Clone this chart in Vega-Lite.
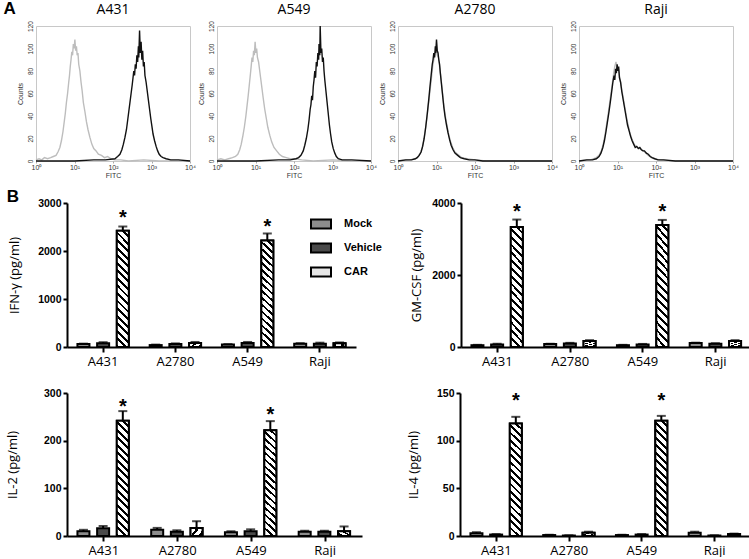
{
"$schema": "https://vega.github.io/schema/vega-lite/v6.json",
"background": "white",
"padding": {"left": 3, "top": 0, "right": 0, "bottom": 0},
"config": {"view": {"stroke": null}, "axis": {"grid": false}, "title": {"color": "black"}},
"datasets": {
"hist": [
{"cell":"A431","stain":"Control","logFITC":0,"counts":1},{"cell":"A431","stain":"Control","logFITC":0.08,"counts":2},{"cell":"A431","stain":"Control","logFITC":0.15,"counts":1},{"cell":"A431","stain":"Control","logFITC":0.22,"counts":3},{"cell":"A431","stain":"Control","logFITC":0.3,"counts":2},{"cell":"A431","stain":"Control","logFITC":0.38,"counts":3},{"cell":"A431","stain":"Control","logFITC":0.45,"counts":4},{"cell":"A431","stain":"Control","logFITC":0.52,"counts":5},{"cell":"A431","stain":"Control","logFITC":0.57,"counts":8},{"cell":"A431","stain":"Control","logFITC":0.62,"counts":12},{"cell":"A431","stain":"Control","logFITC":0.66,"counts":18},{"cell":"A431","stain":"Control","logFITC":0.7,"counts":26},{"cell":"A431","stain":"Control","logFITC":0.73,"counts":34},{"cell":"A431","stain":"Control","logFITC":0.76,"counts":42},{"cell":"A431","stain":"Control","logFITC":0.79,"counts":52},{"cell":"A431","stain":"Control","logFITC":0.82,"counts":60},{"cell":"A431","stain":"Control","logFITC":0.85,"counts":70},{"cell":"A431","stain":"Control","logFITC":0.87,"counts":76},{"cell":"A431","stain":"Control","logFITC":0.89,"counts":84},{"cell":"A431","stain":"Control","logFITC":0.91,"counts":90},{"cell":"A431","stain":"Control","logFITC":0.93,"counts":97},{"cell":"A431","stain":"Control","logFITC":0.95,"counts":94},{"cell":"A431","stain":"Control","logFITC":0.97,"counts":104},{"cell":"A431","stain":"Control","logFITC":0.99,"counts":100},{"cell":"A431","stain":"Control","logFITC":1.01,"counts":108},{"cell":"A431","stain":"Control","logFITC":1.03,"counts":98},{"cell":"A431","stain":"Control","logFITC":1.05,"counts":102},{"cell":"A431","stain":"Control","logFITC":1.07,"counts":94},{"cell":"A431","stain":"Control","logFITC":1.09,"counts":96},{"cell":"A431","stain":"Control","logFITC":1.11,"counts":86},{"cell":"A431","stain":"Control","logFITC":1.14,"counts":80},{"cell":"A431","stain":"Control","logFITC":1.17,"counts":70},{"cell":"A431","stain":"Control","logFITC":1.2,"counts":62},{"cell":"A431","stain":"Control","logFITC":1.23,"counts":52},{"cell":"A431","stain":"Control","logFITC":1.27,"counts":44},{"cell":"A431","stain":"Control","logFITC":1.31,"counts":35},{"cell":"A431","stain":"Control","logFITC":1.35,"counts":28},{"cell":"A431","stain":"Control","logFITC":1.4,"counts":21},{"cell":"A431","stain":"Control","logFITC":1.45,"counts":15},{"cell":"A431","stain":"Control","logFITC":1.5,"counts":11},{"cell":"A431","stain":"Control","logFITC":1.56,"counts":9},{"cell":"A431","stain":"Control","logFITC":1.62,"counts":6},{"cell":"A431","stain":"Control","logFITC":1.7,"counts":5},{"cell":"A431","stain":"Control","logFITC":1.78,"counts":3},{"cell":"A431","stain":"Control","logFITC":1.86,"counts":4},{"cell":"A431","stain":"Control","logFITC":1.95,"counts":2},{"cell":"A431","stain":"Control","logFITC":2.05,"counts":1},{"cell":"A431","stain":"Control","logFITC":2.2,"counts":1},{"cell":"A431","stain":"Control","logFITC":2.4,"counts":0},{"cell":"A431","stain":"Control","logFITC":2.8,"counts":1},{"cell":"A431","stain":"Control","logFITC":3.2,"counts":0},{"cell":"A431","stain":"Control","logFITC":4,"counts":0},
{"cell":"A431","stain":"CAR","logFITC":0,"counts":0},{"cell":"A431","stain":"CAR","logFITC":1,"counts":0},{"cell":"A431","stain":"CAR","logFITC":1.5,"counts":1},{"cell":"A431","stain":"CAR","logFITC":1.8,"counts":1},{"cell":"A431","stain":"CAR","logFITC":2.05,"counts":2},{"cell":"A431","stain":"CAR","logFITC":2.12,"counts":4},{"cell":"A431","stain":"CAR","logFITC":2.18,"counts":6},{"cell":"A431","stain":"CAR","logFITC":2.23,"counts":10},{"cell":"A431","stain":"CAR","logFITC":2.27,"counts":15},{"cell":"A431","stain":"CAR","logFITC":2.31,"counts":21},{"cell":"A431","stain":"CAR","logFITC":2.35,"counts":28},{"cell":"A431","stain":"CAR","logFITC":2.38,"counts":36},{"cell":"A431","stain":"CAR","logFITC":2.41,"counts":44},{"cell":"A431","stain":"CAR","logFITC":2.44,"counts":52},{"cell":"A431","stain":"CAR","logFITC":2.47,"counts":60},{"cell":"A431","stain":"CAR","logFITC":2.5,"counts":68},{"cell":"A431","stain":"CAR","logFITC":2.52,"counts":74},{"cell":"A431","stain":"CAR","logFITC":2.54,"counts":80},{"cell":"A431","stain":"CAR","logFITC":2.56,"counts":76},{"cell":"A431","stain":"CAR","logFITC":2.58,"counts":86},{"cell":"A431","stain":"CAR","logFITC":2.6,"counts":82},{"cell":"A431","stain":"CAR","logFITC":2.62,"counts":94},{"cell":"A431","stain":"CAR","logFITC":2.64,"counts":88},{"cell":"A431","stain":"CAR","logFITC":2.66,"counts":102},{"cell":"A431","stain":"CAR","logFITC":2.67,"counts":92},{"cell":"A431","stain":"CAR","logFITC":2.69,"counts":116},{"cell":"A431","stain":"CAR","logFITC":2.71,"counts":96},{"cell":"A431","stain":"CAR","logFITC":2.73,"counts":106},{"cell":"A431","stain":"CAR","logFITC":2.75,"counts":90},{"cell":"A431","stain":"CAR","logFITC":2.77,"counts":98},{"cell":"A431","stain":"CAR","logFITC":2.79,"counts":84},{"cell":"A431","stain":"CAR","logFITC":2.81,"counts":88},{"cell":"A431","stain":"CAR","logFITC":2.83,"counts":76},{"cell":"A431","stain":"CAR","logFITC":2.86,"counts":70},{"cell":"A431","stain":"CAR","logFITC":2.89,"counts":62},{"cell":"A431","stain":"CAR","logFITC":2.92,"counts":54},{"cell":"A431","stain":"CAR","logFITC":2.95,"counts":46},{"cell":"A431","stain":"CAR","logFITC":2.98,"counts":38},{"cell":"A431","stain":"CAR","logFITC":3.01,"counts":31},{"cell":"A431","stain":"CAR","logFITC":3.04,"counts":24},{"cell":"A431","stain":"CAR","logFITC":3.08,"counts":18},{"cell":"A431","stain":"CAR","logFITC":3.12,"counts":13},{"cell":"A431","stain":"CAR","logFITC":3.16,"counts":9},{"cell":"A431","stain":"CAR","logFITC":3.2,"counts":6},{"cell":"A431","stain":"CAR","logFITC":3.25,"counts":4},{"cell":"A431","stain":"CAR","logFITC":3.3,"counts":3},{"cell":"A431","stain":"CAR","logFITC":3.38,"counts":2},{"cell":"A431","stain":"CAR","logFITC":3.5,"counts":1},{"cell":"A431","stain":"CAR","logFITC":3.7,"counts":1},{"cell":"A431","stain":"CAR","logFITC":4,"counts":0},
{"cell":"A549","stain":"Control","logFITC":0,"counts":1},{"cell":"A549","stain":"Control","logFITC":0.1,"counts":2},{"cell":"A549","stain":"Control","logFITC":0.2,"counts":1},{"cell":"A549","stain":"Control","logFITC":0.3,"counts":2},{"cell":"A549","stain":"Control","logFITC":0.4,"counts":3},{"cell":"A549","stain":"Control","logFITC":0.48,"counts":4},{"cell":"A549","stain":"Control","logFITC":0.54,"counts":6},{"cell":"A549","stain":"Control","logFITC":0.59,"counts":10},{"cell":"A549","stain":"Control","logFITC":0.63,"counts":15},{"cell":"A549","stain":"Control","logFITC":0.67,"counts":22},{"cell":"A549","stain":"Control","logFITC":0.71,"counts":30},{"cell":"A549","stain":"Control","logFITC":0.75,"counts":40},{"cell":"A549","stain":"Control","logFITC":0.78,"counts":49},{"cell":"A549","stain":"Control","logFITC":0.81,"counts":58},{"cell":"A549","stain":"Control","logFITC":0.84,"counts":68},{"cell":"A549","stain":"Control","logFITC":0.87,"counts":78},{"cell":"A549","stain":"Control","logFITC":0.89,"counts":85},{"cell":"A549","stain":"Control","logFITC":0.91,"counts":92},{"cell":"A549","stain":"Control","logFITC":0.93,"counts":88},{"cell":"A549","stain":"Control","logFITC":0.95,"counts":98},{"cell":"A549","stain":"Control","logFITC":0.97,"counts":94},{"cell":"A549","stain":"Control","logFITC":0.99,"counts":106},{"cell":"A549","stain":"Control","logFITC":1.01,"counts":96},{"cell":"A549","stain":"Control","logFITC":1.03,"counts":100},{"cell":"A549","stain":"Control","logFITC":1.05,"counts":92},{"cell":"A549","stain":"Control","logFITC":1.08,"counts":88},{"cell":"A549","stain":"Control","logFITC":1.11,"counts":80},{"cell":"A549","stain":"Control","logFITC":1.14,"counts":72},{"cell":"A549","stain":"Control","logFITC":1.17,"counts":64},{"cell":"A549","stain":"Control","logFITC":1.2,"counts":56},{"cell":"A549","stain":"Control","logFITC":1.24,"counts":46},{"cell":"A549","stain":"Control","logFITC":1.28,"counts":38},{"cell":"A549","stain":"Control","logFITC":1.32,"counts":30},{"cell":"A549","stain":"Control","logFITC":1.37,"counts":23},{"cell":"A549","stain":"Control","logFITC":1.42,"counts":17},{"cell":"A549","stain":"Control","logFITC":1.48,"counts":12},{"cell":"A549","stain":"Control","logFITC":1.55,"counts":9},{"cell":"A549","stain":"Control","logFITC":1.62,"counts":6},{"cell":"A549","stain":"Control","logFITC":1.7,"counts":4},{"cell":"A549","stain":"Control","logFITC":1.8,"counts":3},{"cell":"A549","stain":"Control","logFITC":1.9,"counts":2},{"cell":"A549","stain":"Control","logFITC":2,"counts":2},{"cell":"A549","stain":"Control","logFITC":2.2,"counts":1},{"cell":"A549","stain":"Control","logFITC":2.5,"counts":0},{"cell":"A549","stain":"Control","logFITC":3,"counts":1},{"cell":"A549","stain":"Control","logFITC":3.5,"counts":0},{"cell":"A549","stain":"Control","logFITC":4,"counts":0},
{"cell":"A549","stain":"CAR","logFITC":0,"counts":0},{"cell":"A549","stain":"CAR","logFITC":1,"counts":0},{"cell":"A549","stain":"CAR","logFITC":1.6,"counts":1},{"cell":"A549","stain":"CAR","logFITC":1.9,"counts":1},{"cell":"A549","stain":"CAR","logFITC":2.05,"counts":2},{"cell":"A549","stain":"CAR","logFITC":2.12,"counts":3},{"cell":"A549","stain":"CAR","logFITC":2.18,"counts":5},{"cell":"A549","stain":"CAR","logFITC":2.24,"counts":9},{"cell":"A549","stain":"CAR","logFITC":2.28,"counts":14},{"cell":"A549","stain":"CAR","logFITC":2.32,"counts":20},{"cell":"A549","stain":"CAR","logFITC":2.36,"counts":28},{"cell":"A549","stain":"CAR","logFITC":2.39,"counts":36},{"cell":"A549","stain":"CAR","logFITC":2.42,"counts":46},{"cell":"A549","stain":"CAR","logFITC":2.44,"counts":50},{"cell":"A549","stain":"CAR","logFITC":2.46,"counts":58},{"cell":"A549","stain":"CAR","logFITC":2.48,"counts":54},{"cell":"A549","stain":"CAR","logFITC":2.5,"counts":66},{"cell":"A549","stain":"CAR","logFITC":2.52,"counts":72},{"cell":"A549","stain":"CAR","logFITC":2.54,"counts":80},{"cell":"A549","stain":"CAR","logFITC":2.56,"counts":74},{"cell":"A549","stain":"CAR","logFITC":2.58,"counts":88},{"cell":"A549","stain":"CAR","logFITC":2.6,"counts":84},{"cell":"A549","stain":"CAR","logFITC":2.62,"counts":96},{"cell":"A549","stain":"CAR","logFITC":2.64,"counts":90},{"cell":"A549","stain":"CAR","logFITC":2.65,"counts":104},{"cell":"A549","stain":"CAR","logFITC":2.67,"counts":94},{"cell":"A549","stain":"CAR","logFITC":2.68,"counts":120},{"cell":"A549","stain":"CAR","logFITC":2.7,"counts":96},{"cell":"A549","stain":"CAR","logFITC":2.72,"counts":100},{"cell":"A549","stain":"CAR","logFITC":2.74,"counts":88},{"cell":"A549","stain":"CAR","logFITC":2.76,"counts":92},{"cell":"A549","stain":"CAR","logFITC":2.78,"counts":80},{"cell":"A549","stain":"CAR","logFITC":2.8,"counts":72},{"cell":"A549","stain":"CAR","logFITC":2.83,"counts":62},{"cell":"A549","stain":"CAR","logFITC":2.86,"counts":52},{"cell":"A549","stain":"CAR","logFITC":2.89,"counts":42},{"cell":"A549","stain":"CAR","logFITC":2.92,"counts":32},{"cell":"A549","stain":"CAR","logFITC":2.95,"counts":24},{"cell":"A549","stain":"CAR","logFITC":2.98,"counts":17},{"cell":"A549","stain":"CAR","logFITC":3.02,"counts":11},{"cell":"A549","stain":"CAR","logFITC":3.06,"counts":7},{"cell":"A549","stain":"CAR","logFITC":3.1,"counts":4},{"cell":"A549","stain":"CAR","logFITC":3.15,"counts":2},{"cell":"A549","stain":"CAR","logFITC":3.25,"counts":1},{"cell":"A549","stain":"CAR","logFITC":3.5,"counts":1},{"cell":"A549","stain":"CAR","logFITC":4,"counts":0},
{"cell":"A2780","stain":"Control","logFITC":0,"counts":0},{"cell":"A2780","stain":"Control","logFITC":0.3,"counts":1},{"cell":"A2780","stain":"Control","logFITC":0.45,"counts":2},{"cell":"A2780","stain":"Control","logFITC":0.52,"counts":4},{"cell":"A2780","stain":"Control","logFITC":0.58,"counts":7},{"cell":"A2780","stain":"Control","logFITC":0.63,"counts":12},{"cell":"A2780","stain":"Control","logFITC":0.67,"counts":19},{"cell":"A2780","stain":"Control","logFITC":0.71,"counts":28},{"cell":"A2780","stain":"Control","logFITC":0.75,"counts":38},{"cell":"A2780","stain":"Control","logFITC":0.79,"counts":50},{"cell":"A2780","stain":"Control","logFITC":0.83,"counts":62},{"cell":"A2780","stain":"Control","logFITC":0.87,"counts":74},{"cell":"A2780","stain":"Control","logFITC":0.9,"counts":84},{"cell":"A2780","stain":"Control","logFITC":0.93,"counts":90},{"cell":"A2780","stain":"Control","logFITC":0.96,"counts":95},{"cell":"A2780","stain":"Control","logFITC":0.99,"counts":98},{"cell":"A2780","stain":"Control","logFITC":1.02,"counts":94},{"cell":"A2780","stain":"Control","logFITC":1.05,"counts":92},{"cell":"A2780","stain":"Control","logFITC":1.08,"counts":84},{"cell":"A2780","stain":"Control","logFITC":1.11,"counts":76},{"cell":"A2780","stain":"Control","logFITC":1.14,"counts":66},{"cell":"A2780","stain":"Control","logFITC":1.17,"counts":56},{"cell":"A2780","stain":"Control","logFITC":1.2,"counts":47},{"cell":"A2780","stain":"Control","logFITC":1.24,"counts":38},{"cell":"A2780","stain":"Control","logFITC":1.28,"counts":30},{"cell":"A2780","stain":"Control","logFITC":1.32,"counts":23},{"cell":"A2780","stain":"Control","logFITC":1.37,"counts":17},{"cell":"A2780","stain":"Control","logFITC":1.42,"counts":12},{"cell":"A2780","stain":"Control","logFITC":1.48,"counts":8},{"cell":"A2780","stain":"Control","logFITC":1.55,"counts":6},{"cell":"A2780","stain":"Control","logFITC":1.65,"counts":3},{"cell":"A2780","stain":"Control","logFITC":1.8,"counts":2},{"cell":"A2780","stain":"Control","logFITC":2,"counts":1},{"cell":"A2780","stain":"Control","logFITC":2.3,"counts":0},{"cell":"A2780","stain":"Control","logFITC":4,"counts":0},
{"cell":"A2780","stain":"CAR","logFITC":0,"counts":0},{"cell":"A2780","stain":"CAR","logFITC":0.2,"counts":1},{"cell":"A2780","stain":"CAR","logFITC":0.35,"counts":1},{"cell":"A2780","stain":"CAR","logFITC":0.45,"counts":2},{"cell":"A2780","stain":"CAR","logFITC":0.5,"counts":3},{"cell":"A2780","stain":"CAR","logFITC":0.55,"counts":5},{"cell":"A2780","stain":"CAR","logFITC":0.6,"counts":8},{"cell":"A2780","stain":"CAR","logFITC":0.64,"counts":13},{"cell":"A2780","stain":"CAR","logFITC":0.68,"counts":20},{"cell":"A2780","stain":"CAR","logFITC":0.72,"counts":30},{"cell":"A2780","stain":"CAR","logFITC":0.76,"counts":42},{"cell":"A2780","stain":"CAR","logFITC":0.8,"counts":55},{"cell":"A2780","stain":"CAR","logFITC":0.83,"counts":66},{"cell":"A2780","stain":"CAR","logFITC":0.86,"counts":76},{"cell":"A2780","stain":"CAR","logFITC":0.89,"counts":86},{"cell":"A2780","stain":"CAR","logFITC":0.91,"counts":90},{"cell":"A2780","stain":"CAR","logFITC":0.93,"counts":96},{"cell":"A2780","stain":"CAR","logFITC":0.95,"counts":92},{"cell":"A2780","stain":"CAR","logFITC":0.97,"counts":102},{"cell":"A2780","stain":"CAR","logFITC":0.98,"counts":96},{"cell":"A2780","stain":"CAR","logFITC":1,"counts":108},{"cell":"A2780","stain":"CAR","logFITC":1.02,"counts":98},{"cell":"A2780","stain":"CAR","logFITC":1.04,"counts":96},{"cell":"A2780","stain":"CAR","logFITC":1.06,"counts":90},{"cell":"A2780","stain":"CAR","logFITC":1.08,"counts":86},{"cell":"A2780","stain":"CAR","logFITC":1.1,"counts":78},{"cell":"A2780","stain":"CAR","logFITC":1.13,"counts":68},{"cell":"A2780","stain":"CAR","logFITC":1.16,"counts":58},{"cell":"A2780","stain":"CAR","logFITC":1.19,"counts":48},{"cell":"A2780","stain":"CAR","logFITC":1.22,"counts":40},{"cell":"A2780","stain":"CAR","logFITC":1.26,"counts":32},{"cell":"A2780","stain":"CAR","logFITC":1.3,"counts":25},{"cell":"A2780","stain":"CAR","logFITC":1.34,"counts":19},{"cell":"A2780","stain":"CAR","logFITC":1.38,"counts":14},{"cell":"A2780","stain":"CAR","logFITC":1.43,"counts":10},{"cell":"A2780","stain":"CAR","logFITC":1.48,"counts":7},{"cell":"A2780","stain":"CAR","logFITC":1.55,"counts":5},{"cell":"A2780","stain":"CAR","logFITC":1.62,"counts":3},{"cell":"A2780","stain":"CAR","logFITC":1.72,"counts":2},{"cell":"A2780","stain":"CAR","logFITC":1.85,"counts":1},{"cell":"A2780","stain":"CAR","logFITC":2,"counts":1},{"cell":"A2780","stain":"CAR","logFITC":2.2,"counts":0},{"cell":"A2780","stain":"CAR","logFITC":4,"counts":0},
{"cell":"Raji","stain":"Control","logFITC":0,"counts":0},{"cell":"Raji","stain":"Control","logFITC":0.3,"counts":1},{"cell":"Raji","stain":"Control","logFITC":0.45,"counts":3},{"cell":"Raji","stain":"Control","logFITC":0.52,"counts":5},{"cell":"Raji","stain":"Control","logFITC":0.58,"counts":9},{"cell":"Raji","stain":"Control","logFITC":0.63,"counts":15},{"cell":"Raji","stain":"Control","logFITC":0.67,"counts":22},{"cell":"Raji","stain":"Control","logFITC":0.71,"counts":31},{"cell":"Raji","stain":"Control","logFITC":0.75,"counts":40},{"cell":"Raji","stain":"Control","logFITC":0.79,"counts":50},{"cell":"Raji","stain":"Control","logFITC":0.83,"counts":60},{"cell":"Raji","stain":"Control","logFITC":0.87,"counts":70},{"cell":"Raji","stain":"Control","logFITC":0.9,"counts":78},{"cell":"Raji","stain":"Control","logFITC":0.93,"counts":84},{"cell":"Raji","stain":"Control","logFITC":0.96,"counts":88},{"cell":"Raji","stain":"Control","logFITC":0.99,"counts":84},{"cell":"Raji","stain":"Control","logFITC":1.02,"counts":82},{"cell":"Raji","stain":"Control","logFITC":1.05,"counts":76},{"cell":"Raji","stain":"Control","logFITC":1.09,"counts":68},{"cell":"Raji","stain":"Control","logFITC":1.13,"counts":60},{"cell":"Raji","stain":"Control","logFITC":1.17,"counts":52},{"cell":"Raji","stain":"Control","logFITC":1.21,"counts":44},{"cell":"Raji","stain":"Control","logFITC":1.25,"counts":36},{"cell":"Raji","stain":"Control","logFITC":1.29,"counts":30},{"cell":"Raji","stain":"Control","logFITC":1.33,"counts":24},{"cell":"Raji","stain":"Control","logFITC":1.38,"counts":19},{"cell":"Raji","stain":"Control","logFITC":1.43,"counts":15},{"cell":"Raji","stain":"Control","logFITC":1.48,"counts":13},{"cell":"Raji","stain":"Control","logFITC":1.53,"counts":12},{"cell":"Raji","stain":"Control","logFITC":1.58,"counts":11},{"cell":"Raji","stain":"Control","logFITC":1.63,"counts":10},{"cell":"Raji","stain":"Control","logFITC":1.68,"counts":9},{"cell":"Raji","stain":"Control","logFITC":1.74,"counts":7},{"cell":"Raji","stain":"Control","logFITC":1.8,"counts":5},{"cell":"Raji","stain":"Control","logFITC":1.88,"counts":3},{"cell":"Raji","stain":"Control","logFITC":1.95,"counts":2},{"cell":"Raji","stain":"Control","logFITC":2.1,"counts":1},{"cell":"Raji","stain":"Control","logFITC":2.4,"counts":0},{"cell":"Raji","stain":"Control","logFITC":4,"counts":0},
{"cell":"Raji","stain":"CAR","logFITC":0,"counts":0},{"cell":"Raji","stain":"CAR","logFITC":0.2,"counts":1},{"cell":"Raji","stain":"CAR","logFITC":0.35,"counts":1},{"cell":"Raji","stain":"CAR","logFITC":0.45,"counts":2},{"cell":"Raji","stain":"CAR","logFITC":0.52,"counts":4},{"cell":"Raji","stain":"CAR","logFITC":0.57,"counts":7},{"cell":"Raji","stain":"CAR","logFITC":0.62,"counts":12},{"cell":"Raji","stain":"CAR","logFITC":0.66,"counts":18},{"cell":"Raji","stain":"CAR","logFITC":0.7,"counts":26},{"cell":"Raji","stain":"CAR","logFITC":0.74,"counts":35},{"cell":"Raji","stain":"CAR","logFITC":0.78,"counts":44},{"cell":"Raji","stain":"CAR","logFITC":0.82,"counts":54},{"cell":"Raji","stain":"CAR","logFITC":0.85,"counts":62},{"cell":"Raji","stain":"CAR","logFITC":0.88,"counts":70},{"cell":"Raji","stain":"CAR","logFITC":0.91,"counts":76},{"cell":"Raji","stain":"CAR","logFITC":0.93,"counts":72},{"cell":"Raji","stain":"CAR","logFITC":0.95,"counts":82},{"cell":"Raji","stain":"CAR","logFITC":0.97,"counts":78},{"cell":"Raji","stain":"CAR","logFITC":0.99,"counts":86},{"cell":"Raji","stain":"CAR","logFITC":1.01,"counts":80},{"cell":"Raji","stain":"CAR","logFITC":1.03,"counts":84},{"cell":"Raji","stain":"CAR","logFITC":1.05,"counts":74},{"cell":"Raji","stain":"CAR","logFITC":1.08,"counts":70},{"cell":"Raji","stain":"CAR","logFITC":1.11,"counts":62},{"cell":"Raji","stain":"CAR","logFITC":1.14,"counts":56},{"cell":"Raji","stain":"CAR","logFITC":1.17,"counts":50},{"cell":"Raji","stain":"CAR","logFITC":1.2,"counts":44},{"cell":"Raji","stain":"CAR","logFITC":1.23,"counts":38},{"cell":"Raji","stain":"CAR","logFITC":1.26,"counts":32},{"cell":"Raji","stain":"CAR","logFITC":1.3,"counts":27},{"cell":"Raji","stain":"CAR","logFITC":1.34,"counts":22},{"cell":"Raji","stain":"CAR","logFITC":1.38,"counts":18},{"cell":"Raji","stain":"CAR","logFITC":1.42,"counts":15},{"cell":"Raji","stain":"CAR","logFITC":1.46,"counts":12},{"cell":"Raji","stain":"CAR","logFITC":1.5,"counts":13},{"cell":"Raji","stain":"CAR","logFITC":1.54,"counts":11},{"cell":"Raji","stain":"CAR","logFITC":1.58,"counts":12},{"cell":"Raji","stain":"CAR","logFITC":1.62,"counts":10},{"cell":"Raji","stain":"CAR","logFITC":1.66,"counts":9},{"cell":"Raji","stain":"CAR","logFITC":1.7,"counts":9},{"cell":"Raji","stain":"CAR","logFITC":1.75,"counts":7},{"cell":"Raji","stain":"CAR","logFITC":1.8,"counts":6},{"cell":"Raji","stain":"CAR","logFITC":1.85,"counts":4},{"cell":"Raji","stain":"CAR","logFITC":1.9,"counts":3},{"cell":"Raji","stain":"CAR","logFITC":1.97,"counts":2},{"cell":"Raji","stain":"CAR","logFITC":2.05,"counts":1},{"cell":"Raji","stain":"CAR","logFITC":2.2,"counts":1},{"cell":"Raji","stain":"CAR","logFITC":2.5,"counts":0},{"cell":"Raji","stain":"CAR","logFITC":4,"counts":0}
],
"cyto": [
{"cytokine":"IFN-γ","cell":"A431","group":"Mock","mean":60,"upper":70},{"cytokine":"IFN-γ","cell":"A431","group":"Vehicle","mean":80,"upper":100},{"cytokine":"IFN-γ","cell":"A431","group":"CAR","mean":2420,"upper":2510,"star":2790},
{"cytokine":"IFN-γ","cell":"A2780","group":"Mock","mean":40,"upper":50},{"cytokine":"IFN-γ","cell":"A2780","group":"Vehicle","mean":60,"upper":75},{"cytokine":"IFN-γ","cell":"A2780","group":"CAR","mean":85,"upper":105},
{"cytokine":"IFN-γ","cell":"A549","group":"Mock","mean":50,"upper":60},{"cytokine":"IFN-γ","cell":"A549","group":"Vehicle","mean":85,"upper":105},{"cytokine":"IFN-γ","cell":"A549","group":"CAR","mean":2220,"upper":2365,"star":2610},
{"cytokine":"IFN-γ","cell":"Raji","group":"Mock","mean":70,"upper":80},{"cytokine":"IFN-γ","cell":"Raji","group":"Vehicle","mean":70,"upper":90},{"cytokine":"IFN-γ","cell":"Raji","group":"CAR","mean":80,"upper":95},
{"cytokine":"GM-CSF","cell":"A431","group":"Mock","mean":50,"upper":60},{"cytokine":"GM-CSF","cell":"A431","group":"Vehicle","mean":70,"upper":90},{"cytokine":"GM-CSF","cell":"A431","group":"CAR","mean":3330,"upper":3540,"star":3880},
{"cytokine":"GM-CSF","cell":"A2780","group":"Mock","mean":80,"upper":90},{"cytokine":"GM-CSF","cell":"A2780","group":"Vehicle","mean":100,"upper":115},{"cytokine":"GM-CSF","cell":"A2780","group":"CAR","mean":170,"upper":190},
{"cytokine":"GM-CSF","cell":"A549","group":"Mock","mean":50,"upper":60},{"cytokine":"GM-CSF","cell":"A549","group":"Vehicle","mean":70,"upper":85},{"cytokine":"GM-CSF","cell":"A549","group":"CAR","mean":3390,"upper":3530,"star":3880},
{"cytokine":"GM-CSF","cell":"Raji","group":"Mock","mean":110,"upper":120},{"cytokine":"GM-CSF","cell":"Raji","group":"Vehicle","mean":90,"upper":105},{"cytokine":"GM-CSF","cell":"Raji","group":"CAR","mean":170,"upper":190},
{"cytokine":"IL-2","cell":"A431","group":"Mock","mean":10,"upper":13},{"cytokine":"IL-2","cell":"A431","group":"Vehicle","mean":16,"upper":21},{"cytokine":"IL-2","cell":"A431","group":"CAR","mean":242,"upper":262,"star":282},
{"cytokine":"IL-2","cell":"A2780","group":"Mock","mean":13,"upper":17},{"cytokine":"IL-2","cell":"A2780","group":"Vehicle","mean":9,"upper":12},{"cytokine":"IL-2","cell":"A2780","group":"CAR","mean":17,"upper":31},
{"cytokine":"IL-2","cell":"A549","group":"Mock","mean":8,"upper":10},{"cytokine":"IL-2","cell":"A549","group":"Vehicle","mean":10,"upper":14},{"cytokine":"IL-2","cell":"A549","group":"CAR","mean":222,"upper":241,"star":264},
{"cytokine":"IL-2","cell":"Raji","group":"Mock","mean":9,"upper":11},{"cytokine":"IL-2","cell":"Raji","group":"Vehicle","mean":9,"upper":11},{"cytokine":"IL-2","cell":"Raji","group":"CAR","mean":10,"upper":20},
{"cytokine":"IL-4","cell":"A431","group":"Mock","mean":3,"upper":4},{"cytokine":"IL-4","cell":"A431","group":"Vehicle","mean":1.5,"upper":2},{"cytokine":"IL-4","cell":"A431","group":"CAR","mean":118,"upper":125,"star":147},
{"cytokine":"IL-4","cell":"A2780","group":"Mock","mean":1,"upper":1.3},{"cytokine":"IL-4","cell":"A2780","group":"Vehicle","mean":0.5,"upper":0.7},{"cytokine":"IL-4","cell":"A2780","group":"CAR","mean":3.5,"upper":4.5},
{"cytokine":"IL-4","cell":"A549","group":"Mock","mean":1,"upper":1.3},{"cytokine":"IL-4","cell":"A549","group":"Vehicle","mean":1.5,"upper":2},{"cytokine":"IL-4","cell":"A549","group":"CAR","mean":121,"upper":126,"star":147},
{"cytokine":"IL-4","cell":"Raji","group":"Mock","mean":3.5,"upper":4.5},{"cytokine":"IL-4","cell":"Raji","group":"Vehicle","mean":0.5,"upper":0.7},{"cytokine":"IL-4","cell":"Raji","group":"CAR","mean":2,"upper":2.5}
],
"spacer": [{"slot": 0}]
},
"resolve": {"scale": {"fill": "independent"}, "legend": {"fill": "independent"}},
"columns": 1,
"align": "none",
"spacing": 9,
"concat": [
{
"title": {"text": "A", "anchor": "start", "frame": "bounds", "font": "Liberation Sans", "fontSize": 17, "fontWeight": "bold", "offset": -16, "dx": -12, "color": "black"},
"bounds": "flush",
"spacing": 27,
"hconcat": [
{"width": 154, "height": 135, "view": {"stroke": "#c8c8c8"}, "title": {"text": "A431", "font": "Open Sans", "fontSize": 14, "fontWeight": "normal", "offset": 4, "color": "black"},
"data": {"name": "hist"}, "transform": [{"filter": "datum.cell === 'A431'"}],
"encoding": {
"x": {"field": "logFITC", "type": "quantitative", "scale": {"domain": [0, 4], "nice": false, "zero": false}, "axis": {"values": [0, 1, 2, 3, 4], "labelExpr": "'10' + ['⁰','¹','²','³','⁴'][datum.value]", "title": "FITC", "titleFont": "Liberation Sans", "titleFontSize": 7, "titleFontWeight": "normal", "titleColor": "#333", "titlePadding": 1, "labelFont": "Liberation Sans", "labelFontSize": 7, "labelColor": "#333", "domain": false, "tickSize": 2, "tickColor": "#aaa", "labelPadding": 0, "labelFlush": false}},
"y": {"field": "counts", "type": "quantitative", "scale": {"domain": [0, 120], "nice": false}, "axis": {"values": [0, 20, 40, 60, 80, 100, 120], "labelAngle": -90, "title": "Counts", "titleFont": "Liberation Sans", "titleFontSize": 7, "titleFontWeight": "normal", "titleColor": "#333", "titlePadding": 4, "labelFont": "Liberation Sans", "labelFontSize": 6.5, "labelColor": "#333", "domain": false, "ticks": false, "labelPadding": 3}}
},
"layer": [
{"transform": [{"filter": "datum.stain === 'Control'"}], "mark": {"type": "line", "stroke": "#bdbdbd", "strokeWidth": 1.4}},
{"transform": [{"filter": "datum.stain === 'CAR'"}], "mark": {"type": "line", "stroke": "#111111", "strokeWidth": 1.4}}
]},
{"width": 154, "height": 135, "view": {"stroke": "#c8c8c8"}, "title": {"text": "A549", "font": "Open Sans", "fontSize": 14, "fontWeight": "normal", "offset": 4, "color": "black"},
"data": {"name": "hist"}, "transform": [{"filter": "datum.cell === 'A549'"}],
"encoding": {
"x": {"field": "logFITC", "type": "quantitative", "scale": {"domain": [0, 4], "nice": false, "zero": false}, "axis": {"values": [0, 1, 2, 3, 4], "labelExpr": "'10' + ['⁰','¹','²','³','⁴'][datum.value]", "title": "FITC", "titleFont": "Liberation Sans", "titleFontSize": 7, "titleFontWeight": "normal", "titleColor": "#333", "titlePadding": 1, "labelFont": "Liberation Sans", "labelFontSize": 7, "labelColor": "#333", "domain": false, "tickSize": 2, "tickColor": "#aaa", "labelPadding": 0, "labelFlush": false}},
"y": {"field": "counts", "type": "quantitative", "scale": {"domain": [0, 120], "nice": false}, "axis": {"values": [0, 20, 40, 60, 80, 100, 120], "labelAngle": -90, "title": "Counts", "titleFont": "Liberation Sans", "titleFontSize": 7, "titleFontWeight": "normal", "titleColor": "#333", "titlePadding": 4, "labelFont": "Liberation Sans", "labelFontSize": 6.5, "labelColor": "#333", "domain": false, "ticks": false, "labelPadding": 3}}
},
"layer": [
{"transform": [{"filter": "datum.stain === 'Control'"}], "mark": {"type": "line", "stroke": "#bdbdbd", "strokeWidth": 1.4}},
{"transform": [{"filter": "datum.stain === 'CAR'"}], "mark": {"type": "line", "stroke": "#111111", "strokeWidth": 1.4}}
]},
{"width": 154, "height": 135, "view": {"stroke": "#c8c8c8"}, "title": {"text": "A2780", "font": "Open Sans", "fontSize": 14, "fontWeight": "normal", "offset": 4, "color": "black"},
"data": {"name": "hist"}, "transform": [{"filter": "datum.cell === 'A2780'"}],
"encoding": {
"x": {"field": "logFITC", "type": "quantitative", "scale": {"domain": [0, 4], "nice": false, "zero": false}, "axis": {"values": [0, 1, 2, 3, 4], "labelExpr": "'10' + ['⁰','¹','²','³','⁴'][datum.value]", "title": "FITC", "titleFont": "Liberation Sans", "titleFontSize": 7, "titleFontWeight": "normal", "titleColor": "#333", "titlePadding": 1, "labelFont": "Liberation Sans", "labelFontSize": 7, "labelColor": "#333", "domain": false, "tickSize": 2, "tickColor": "#aaa", "labelPadding": 0, "labelFlush": false}},
"y": {"field": "counts", "type": "quantitative", "scale": {"domain": [0, 120], "nice": false}, "axis": {"values": [0, 20, 40, 60, 80, 100, 120], "labelAngle": -90, "title": "Counts", "titleFont": "Liberation Sans", "titleFontSize": 7, "titleFontWeight": "normal", "titleColor": "#333", "titlePadding": 4, "labelFont": "Liberation Sans", "labelFontSize": 6.5, "labelColor": "#333", "domain": false, "ticks": false, "labelPadding": 3}}
},
"layer": [
{"transform": [{"filter": "datum.stain === 'Control'"}], "mark": {"type": "line", "stroke": "#bdbdbd", "strokeWidth": 1.4}},
{"transform": [{"filter": "datum.stain === 'CAR'"}], "mark": {"type": "line", "stroke": "#111111", "strokeWidth": 1.4}}
]},
{"width": 154, "height": 135, "view": {"stroke": "#c8c8c8"}, "title": {"text": "Raji", "font": "Open Sans", "fontSize": 14, "fontWeight": "normal", "offset": 4, "color": "black"},
"data": {"name": "hist"}, "transform": [{"filter": "datum.cell === 'Raji'"}],
"encoding": {
"x": {"field": "logFITC", "type": "quantitative", "scale": {"domain": [0, 4], "nice": false, "zero": false}, "axis": {"values": [0, 1, 2, 3, 4], "labelExpr": "'10' + ['⁰','¹','²','³','⁴'][datum.value]", "title": "FITC", "titleFont": "Liberation Sans", "titleFontSize": 7, "titleFontWeight": "normal", "titleColor": "#333", "titlePadding": 1, "labelFont": "Liberation Sans", "labelFontSize": 7, "labelColor": "#333", "domain": false, "tickSize": 2, "tickColor": "#aaa", "labelPadding": 0, "labelFlush": false}},
"y": {"field": "counts", "type": "quantitative", "scale": {"domain": [0, 120], "nice": false}, "axis": {"values": [0, 20, 40, 60, 80, 100, 120], "labelAngle": -90, "title": "Counts", "titleFont": "Liberation Sans", "titleFontSize": 7, "titleFontWeight": "normal", "titleColor": "#333", "titlePadding": 4, "labelFont": "Liberation Sans", "labelFontSize": 6.5, "labelColor": "#333", "domain": false, "ticks": false, "labelPadding": 3}}
},
"layer": [
{"transform": [{"filter": "datum.stain === 'Control'"}], "mark": {"type": "line", "stroke": "#bdbdbd", "strokeWidth": 1.4}},
{"transform": [{"filter": "datum.stain === 'CAR'"}], "mark": {"type": "line", "stroke": "#111111", "strokeWidth": 1.4}}
]}
]
},
{
"title": {"text": "B", "anchor": "start", "frame": "bounds", "font": "Liberation Sans", "fontSize": 17, "fontWeight": "bold", "offset": -8, "dx": -2, "color": "black"},
"bounds": "flush",
"spacing": 30,
"resolve": {"scale": {"fill": "independent"}, "legend": {"fill": "independent"}},
"hconcat": [
{"width": 1, "height": 1, "data": {"name": "spacer"}, "mark": {"type": "point", "opacity": 0}, "encoding": {}},
{
"bounds": "flush",
"spacing": 105,
"resolve": {"scale": {"fill": "independent"}, "legend": {"fill": "independent"}},
"hconcat": [
{"width": 289, "height": 144, "data": {"name": "cyto"}, "transform": [{"filter": "datum.cytokine === 'IFN-γ'"}],
"encoding": {
"x": {"field": "cell", "type": "nominal", "sort": ["A431", "A2780", "A549", "Raji"], "scale": {"paddingInner": 0, "paddingOuter": 0}, "axis": {"title": " ", "titleFontSize": 6, "titlePadding": 5, "labelAngle": 0, "labelFont": "Open Sans", "labelFontSize": 13, "labelColor": "black", "domainColor": "black", "domainWidth": 2, "tickColor": "black", "tickWidth": 2, "tickSize": 5, "labelPadding": 3}},
"xOffset": {"field": "group", "type": "nominal", "sort": ["Mock", "Vehicle", "CAR"], "scale": {"paddingInner": 0.39, "paddingOuter": 0.53}}
},
"layer": [
{"mark": {"type": "bar", "stroke": "black", "strokeWidth": 2},
"encoding": {
"y": {"field": "mean", "type": "quantitative", "title": "IFN-γ (pg/ml)", "scale": {"domain": [0, 3000], "nice": false}, "axis": {"values": [0, 1000, 2000, 3000], "format": "d", "labelFont": "Liberation Sans", "labelFontWeight": "bold", "labelFontSize": 10.5, "labelColor": "black", "domainColor": "black", "domainWidth": 2, "tickColor": "black", "tickWidth": 2, "tickSize": 4, "labelPadding": 2, "titleFont": "Open Sans", "titleFontSize": 13, "titleFontWeight": "normal", "titleColor": "black", "titlePadding": 16}},
"fill": {"field": "group", "type": "nominal", "scale": {"domain": ["Mock", "Vehicle", "CAR"], "range": ["#8c8c8c", "#4a4a4a", "#e6e6e6"]},
"legend": {"orient": "none", "legendX": 243, "legendY": 10, "direction": "vertical", "title": null, "symbolType": "M-1,-0.45L1,-0.45L1,0.45L-1,0.45Z", "symbolSize": 400, "symbolStrokeColor": "black", "symbolStrokeWidth": 2, "symbolOpacity": 1, "labelFont": "Liberation Sans", "labelFontWeight": "bold", "labelFontSize": 11, "labelColor": "black", "labelOffset": 12, "rowPadding": 4}}
}},
{"transform": [{"filter": "datum.group === 'CAR'"}],
"mark": {"type": "bar", "stroke": "black", "strokeWidth": 2, "fill": {"gradient": "linear", "x1": 0, "y1": 1, "x2": 0.114, "y2": -0.093, "stops": [{"offset":0,"color":"black"},{"offset":0.022,"color":"black"},{"offset":0.022,"color":"white"},{"offset":0.0588,"color":"white"},{"offset":0.0588,"color":"black"},{"offset":0.0808,"color":"black"},{"offset":0.0808,"color":"white"},{"offset":0.1176,"color":"white"},{"offset":0.1176,"color":"black"},{"offset":0.1396,"color":"black"},{"offset":0.1396,"color":"white"},{"offset":0.1765,"color":"white"},{"offset":0.1765,"color":"black"},{"offset":0.1985,"color":"black"},{"offset":0.1985,"color":"white"},{"offset":0.2353,"color":"white"},{"offset":0.2353,"color":"black"},{"offset":0.2573,"color":"black"},{"offset":0.2573,"color":"white"},{"offset":0.2941,"color":"white"},{"offset":0.2941,"color":"black"},{"offset":0.3161,"color":"black"},{"offset":0.3161,"color":"white"},{"offset":0.3529,"color":"white"},{"offset":0.3529,"color":"black"},{"offset":0.3749,"color":"black"},{"offset":0.3749,"color":"white"},{"offset":0.4118,"color":"white"},{"offset":0.4118,"color":"black"},{"offset":0.4338,"color":"black"},{"offset":0.4338,"color":"white"},{"offset":0.4706,"color":"white"},{"offset":0.4706,"color":"black"},{"offset":0.4926,"color":"black"},{"offset":0.4926,"color":"white"},{"offset":0.5294,"color":"white"},{"offset":0.5294,"color":"black"},{"offset":0.5514,"color":"black"},{"offset":0.5514,"color":"white"},{"offset":0.5882,"color":"white"},{"offset":0.5882,"color":"black"},{"offset":0.6102,"color":"black"},{"offset":0.6102,"color":"white"},{"offset":0.6471,"color":"white"},{"offset":0.6471,"color":"black"},{"offset":0.6691,"color":"black"},{"offset":0.6691,"color":"white"},{"offset":0.7059,"color":"white"},{"offset":0.7059,"color":"black"},{"offset":0.7279,"color":"black"},{"offset":0.7279,"color":"white"},{"offset":0.7647,"color":"white"},{"offset":0.7647,"color":"black"},{"offset":0.7867,"color":"black"},{"offset":0.7867,"color":"white"},{"offset":0.8235,"color":"white"},{"offset":0.8235,"color":"black"},{"offset":0.8455,"color":"black"},{"offset":0.8455,"color":"white"},{"offset":0.8824,"color":"white"},{"offset":0.8824,"color":"black"},{"offset":0.9044,"color":"black"},{"offset":0.9044,"color":"white"},{"offset":0.9412,"color":"white"},{"offset":0.9412,"color":"black"},{"offset":0.9632,"color":"black"},{"offset":0.9632,"color":"white"},{"offset":1,"color":"white"}]}},
"encoding": {"y": {"field": "mean", "type": "quantitative", "title": "IFN-γ (pg/ml)"}}},
{"mark": {"type": "rule", "color": "black", "strokeWidth": 2}, "encoding": {"y": {"field": "mean", "type": "quantitative", "title": "IFN-γ (pg/ml)"}, "y2": {"field": "upper"}}},
{"mark": {"type": "tick", "color": "black", "thickness": 2, "size": 9, "orient": "horizontal"}, "encoding": {"y": {"field": "upper", "type": "quantitative", "title": "IFN-γ (pg/ml)"}}},
{"transform": [{"filter": "isValid(datum.star)"}], "mark": {"type": "text", "font": "Liberation Sans", "fontSize": 20, "fontWeight": "bold", "baseline": "middle", "dy": 5, "color": "black"}, "encoding": {"y": {"field": "star", "type": "quantitative", "title": "IFN-γ (pg/ml)"}, "text": {"value": "*"}}}
]},
{"width": 291, "height": 144, "data": {"name": "cyto"}, "transform": [{"filter": "datum.cytokine === 'GM-CSF'"}],
"encoding": {
"x": {"field": "cell", "type": "nominal", "sort": ["A431", "A2780", "A549", "Raji"], "scale": {"paddingInner": 0, "paddingOuter": 0}, "axis": {"title": " ", "titleFontSize": 6, "titlePadding": 5, "labelAngle": 0, "labelFont": "Open Sans", "labelFontSize": 13, "labelColor": "black", "domainColor": "black", "domainWidth": 2, "tickColor": "black", "tickWidth": 2, "tickSize": 5, "labelPadding": 3}},
"xOffset": {"field": "group", "type": "nominal", "sort": ["Mock", "Vehicle", "CAR"], "scale": {"paddingInner": 0.39, "paddingOuter": 0.53}}
},
"layer": [
{"mark": {"type": "bar", "stroke": "black", "strokeWidth": 2},
"encoding": {
"y": {"field": "mean", "type": "quantitative", "title": "GM-CSF  (pg/ml)", "scale": {"domain": [0, 4000], "nice": false}, "axis": {"values": [0, 1000, 2000, 3000, 4000], "format": "d", "labelFont": "Liberation Sans", "labelFontWeight": "bold", "labelFontSize": 10.5, "labelColor": "black", "domainColor": "black", "domainWidth": 2, "tickColor": "black", "tickWidth": 2, "tickSize": 4, "labelPadding": 2, "titleFont": "Open Sans", "titleFontSize": 13, "titleFontWeight": "normal", "titleColor": "black", "titlePadding": 8}},
"fill": {"field": "group", "type": "nominal", "scale": {"domain": ["Mock", "Vehicle", "CAR"], "range": ["#8c8c8c", "#4a4a4a", "#e6e6e6"]}, "legend": null}
}},
{"transform": [{"filter": "datum.group === 'CAR'"}],
"mark": {"type": "bar", "stroke": "black", "strokeWidth": 2, "fill": {"gradient": "linear", "x1": 0, "y1": 1, "x2": 0.114, "y2": -0.093, "stops": [{"offset":0,"color":"black"},{"offset":0.022,"color":"black"},{"offset":0.022,"color":"white"},{"offset":0.0588,"color":"white"},{"offset":0.0588,"color":"black"},{"offset":0.0808,"color":"black"},{"offset":0.0808,"color":"white"},{"offset":0.1176,"color":"white"},{"offset":0.1176,"color":"black"},{"offset":0.1396,"color":"black"},{"offset":0.1396,"color":"white"},{"offset":0.1765,"color":"white"},{"offset":0.1765,"color":"black"},{"offset":0.1985,"color":"black"},{"offset":0.1985,"color":"white"},{"offset":0.2353,"color":"white"},{"offset":0.2353,"color":"black"},{"offset":0.2573,"color":"black"},{"offset":0.2573,"color":"white"},{"offset":0.2941,"color":"white"},{"offset":0.2941,"color":"black"},{"offset":0.3161,"color":"black"},{"offset":0.3161,"color":"white"},{"offset":0.3529,"color":"white"},{"offset":0.3529,"color":"black"},{"offset":0.3749,"color":"black"},{"offset":0.3749,"color":"white"},{"offset":0.4118,"color":"white"},{"offset":0.4118,"color":"black"},{"offset":0.4338,"color":"black"},{"offset":0.4338,"color":"white"},{"offset":0.4706,"color":"white"},{"offset":0.4706,"color":"black"},{"offset":0.4926,"color":"black"},{"offset":0.4926,"color":"white"},{"offset":0.5294,"color":"white"},{"offset":0.5294,"color":"black"},{"offset":0.5514,"color":"black"},{"offset":0.5514,"color":"white"},{"offset":0.5882,"color":"white"},{"offset":0.5882,"color":"black"},{"offset":0.6102,"color":"black"},{"offset":0.6102,"color":"white"},{"offset":0.6471,"color":"white"},{"offset":0.6471,"color":"black"},{"offset":0.6691,"color":"black"},{"offset":0.6691,"color":"white"},{"offset":0.7059,"color":"white"},{"offset":0.7059,"color":"black"},{"offset":0.7279,"color":"black"},{"offset":0.7279,"color":"white"},{"offset":0.7647,"color":"white"},{"offset":0.7647,"color":"black"},{"offset":0.7867,"color":"black"},{"offset":0.7867,"color":"white"},{"offset":0.8235,"color":"white"},{"offset":0.8235,"color":"black"},{"offset":0.8455,"color":"black"},{"offset":0.8455,"color":"white"},{"offset":0.8824,"color":"white"},{"offset":0.8824,"color":"black"},{"offset":0.9044,"color":"black"},{"offset":0.9044,"color":"white"},{"offset":0.9412,"color":"white"},{"offset":0.9412,"color":"black"},{"offset":0.9632,"color":"black"},{"offset":0.9632,"color":"white"},{"offset":1,"color":"white"}]}},
"encoding": {"y": {"field": "mean", "type": "quantitative", "title": "GM-CSF  (pg/ml)"}}},
{"mark": {"type": "rule", "color": "black", "strokeWidth": 2}, "encoding": {"y": {"field": "mean", "type": "quantitative", "title": "GM-CSF  (pg/ml)"}, "y2": {"field": "upper"}}},
{"mark": {"type": "tick", "color": "black", "thickness": 2, "size": 9, "orient": "horizontal"}, "encoding": {"y": {"field": "upper", "type": "quantitative", "title": "GM-CSF  (pg/ml)"}}},
{"transform": [{"filter": "isValid(datum.star)"}], "mark": {"type": "text", "font": "Liberation Sans", "fontSize": 20, "fontWeight": "bold", "baseline": "middle", "dy": 5, "color": "black"}, "encoding": {"y": {"field": "star", "type": "quantitative", "title": "GM-CSF  (pg/ml)"}, "text": {"value": "*"}}}
]}
]
}
]
},
{
"bounds": "flush",
"spacing": 30,
"resolve": {"scale": {"fill": "independent"}, "legend": {"fill": "independent"}},
"hconcat": [
{"width": 1, "height": 1, "data": {"name": "spacer"}, "mark": {"type": "point", "opacity": 0}, "encoding": {}},
{
"bounds": "flush",
"spacing": 98,
"resolve": {"scale": {"fill": "independent"}, "legend": {"fill": "independent"}},
"hconcat": [
{"width": 295, "height": 143, "data": {"name": "cyto"}, "transform": [{"filter": "datum.cytokine === 'IL-2'"}],
"encoding": {
"x": {"field": "cell", "type": "nominal", "sort": ["A431", "A2780", "A549", "Raji"], "scale": {"paddingInner": 0, "paddingOuter": 0}, "axis": {"title": null, "labelAngle": 0, "labelFont": "Open Sans", "labelFontSize": 13, "labelColor": "black", "domainColor": "black", "domainWidth": 2, "tickColor": "black", "tickWidth": 2, "tickSize": 5, "labelPadding": 3}},
"xOffset": {"field": "group", "type": "nominal", "sort": ["Mock", "Vehicle", "CAR"], "scale": {"paddingInner": 0.39, "paddingOuter": 0.53}}
},
"layer": [
{"mark": {"type": "bar", "stroke": "black", "strokeWidth": 2},
"encoding": {
"y": {"field": "mean", "type": "quantitative", "title": "IL-2 (pg/ml)", "scale": {"domain": [0, 300], "nice": false}, "axis": {"values": [0, 100, 200, 300], "format": "d", "labelFont": "Liberation Sans", "labelFontWeight": "bold", "labelFontSize": 10.5, "labelColor": "black", "domainColor": "black", "domainWidth": 2, "tickColor": "black", "tickWidth": 2, "tickSize": 4, "labelPadding": 2, "titleFont": "Open Sans", "titleFontSize": 13, "titleFontWeight": "normal", "titleColor": "black", "titlePadding": 24}},
"fill": {"field": "group", "type": "nominal", "scale": {"domain": ["Mock", "Vehicle", "CAR"], "range": ["#8c8c8c", "#4a4a4a", "#e6e6e6"]}, "legend": null}
}},
{"transform": [{"filter": "datum.group === 'CAR'"}],
"mark": {"type": "bar", "stroke": "black", "strokeWidth": 2, "fill": {"gradient": "linear", "x1": 0, "y1": 1, "x2": 0.114, "y2": -0.093, "stops": [{"offset":0,"color":"black"},{"offset":0.022,"color":"black"},{"offset":0.022,"color":"white"},{"offset":0.0588,"color":"white"},{"offset":0.0588,"color":"black"},{"offset":0.0808,"color":"black"},{"offset":0.0808,"color":"white"},{"offset":0.1176,"color":"white"},{"offset":0.1176,"color":"black"},{"offset":0.1396,"color":"black"},{"offset":0.1396,"color":"white"},{"offset":0.1765,"color":"white"},{"offset":0.1765,"color":"black"},{"offset":0.1985,"color":"black"},{"offset":0.1985,"color":"white"},{"offset":0.2353,"color":"white"},{"offset":0.2353,"color":"black"},{"offset":0.2573,"color":"black"},{"offset":0.2573,"color":"white"},{"offset":0.2941,"color":"white"},{"offset":0.2941,"color":"black"},{"offset":0.3161,"color":"black"},{"offset":0.3161,"color":"white"},{"offset":0.3529,"color":"white"},{"offset":0.3529,"color":"black"},{"offset":0.3749,"color":"black"},{"offset":0.3749,"color":"white"},{"offset":0.4118,"color":"white"},{"offset":0.4118,"color":"black"},{"offset":0.4338,"color":"black"},{"offset":0.4338,"color":"white"},{"offset":0.4706,"color":"white"},{"offset":0.4706,"color":"black"},{"offset":0.4926,"color":"black"},{"offset":0.4926,"color":"white"},{"offset":0.5294,"color":"white"},{"offset":0.5294,"color":"black"},{"offset":0.5514,"color":"black"},{"offset":0.5514,"color":"white"},{"offset":0.5882,"color":"white"},{"offset":0.5882,"color":"black"},{"offset":0.6102,"color":"black"},{"offset":0.6102,"color":"white"},{"offset":0.6471,"color":"white"},{"offset":0.6471,"color":"black"},{"offset":0.6691,"color":"black"},{"offset":0.6691,"color":"white"},{"offset":0.7059,"color":"white"},{"offset":0.7059,"color":"black"},{"offset":0.7279,"color":"black"},{"offset":0.7279,"color":"white"},{"offset":0.7647,"color":"white"},{"offset":0.7647,"color":"black"},{"offset":0.7867,"color":"black"},{"offset":0.7867,"color":"white"},{"offset":0.8235,"color":"white"},{"offset":0.8235,"color":"black"},{"offset":0.8455,"color":"black"},{"offset":0.8455,"color":"white"},{"offset":0.8824,"color":"white"},{"offset":0.8824,"color":"black"},{"offset":0.9044,"color":"black"},{"offset":0.9044,"color":"white"},{"offset":0.9412,"color":"white"},{"offset":0.9412,"color":"black"},{"offset":0.9632,"color":"black"},{"offset":0.9632,"color":"white"},{"offset":1,"color":"white"}]}},
"encoding": {"y": {"field": "mean", "type": "quantitative", "title": "IL-2 (pg/ml)"}}},
{"mark": {"type": "rule", "color": "black", "strokeWidth": 2}, "encoding": {"y": {"field": "mean", "type": "quantitative", "title": "IL-2 (pg/ml)"}, "y2": {"field": "upper"}}},
{"mark": {"type": "tick", "color": "black", "thickness": 2, "size": 9, "orient": "horizontal"}, "encoding": {"y": {"field": "upper", "type": "quantitative", "title": "IL-2 (pg/ml)"}}},
{"transform": [{"filter": "isValid(datum.star)"}], "mark": {"type": "text", "font": "Liberation Sans", "fontSize": 20, "fontWeight": "bold", "baseline": "middle", "dy": 5, "color": "black"}, "encoding": {"y": {"field": "star", "type": "quantitative", "title": "IL-2 (pg/ml)"}, "text": {"value": "*"}}}
]},
{"width": 291, "height": 143, "data": {"name": "cyto"}, "transform": [{"filter": "datum.cytokine === 'IL-4'"}],
"encoding": {
"x": {"field": "cell", "type": "nominal", "sort": ["A431", "A2780", "A549", "Raji"], "scale": {"paddingInner": 0, "paddingOuter": 0}, "axis": {"title": null, "labelAngle": 0, "labelFont": "Open Sans", "labelFontSize": 13, "labelColor": "black", "domainColor": "black", "domainWidth": 2, "tickColor": "black", "tickWidth": 2, "tickSize": 5, "labelPadding": 3}},
"xOffset": {"field": "group", "type": "nominal", "sort": ["Mock", "Vehicle", "CAR"], "scale": {"paddingInner": 0.39, "paddingOuter": 0.53}}
},
"layer": [
{"mark": {"type": "bar", "stroke": "black", "strokeWidth": 2},
"encoding": {
"y": {"field": "mean", "type": "quantitative", "title": "IL-4 (pg/ml)", "scale": {"domain": [0, 150], "nice": false}, "axis": {"values": [0, 50, 100, 150], "format": "d", "labelFont": "Liberation Sans", "labelFontWeight": "bold", "labelFontSize": 10.5, "labelColor": "black", "domainColor": "black", "domainWidth": 2, "tickColor": "black", "tickWidth": 2, "tickSize": 4, "labelPadding": 2, "titleFont": "Open Sans", "titleFontSize": 13, "titleFontWeight": "normal", "titleColor": "black", "titlePadding": 16}},
"fill": {"field": "group", "type": "nominal", "scale": {"domain": ["Mock", "Vehicle", "CAR"], "range": ["#8c8c8c", "#4a4a4a", "#e6e6e6"]}, "legend": null}
}},
{"transform": [{"filter": "datum.group === 'CAR'"}],
"mark": {"type": "bar", "stroke": "black", "strokeWidth": 2, "fill": {"gradient": "linear", "x1": 0, "y1": 1, "x2": 0.114, "y2": -0.093, "stops": [{"offset":0,"color":"black"},{"offset":0.022,"color":"black"},{"offset":0.022,"color":"white"},{"offset":0.0588,"color":"white"},{"offset":0.0588,"color":"black"},{"offset":0.0808,"color":"black"},{"offset":0.0808,"color":"white"},{"offset":0.1176,"color":"white"},{"offset":0.1176,"color":"black"},{"offset":0.1396,"color":"black"},{"offset":0.1396,"color":"white"},{"offset":0.1765,"color":"white"},{"offset":0.1765,"color":"black"},{"offset":0.1985,"color":"black"},{"offset":0.1985,"color":"white"},{"offset":0.2353,"color":"white"},{"offset":0.2353,"color":"black"},{"offset":0.2573,"color":"black"},{"offset":0.2573,"color":"white"},{"offset":0.2941,"color":"white"},{"offset":0.2941,"color":"black"},{"offset":0.3161,"color":"black"},{"offset":0.3161,"color":"white"},{"offset":0.3529,"color":"white"},{"offset":0.3529,"color":"black"},{"offset":0.3749,"color":"black"},{"offset":0.3749,"color":"white"},{"offset":0.4118,"color":"white"},{"offset":0.4118,"color":"black"},{"offset":0.4338,"color":"black"},{"offset":0.4338,"color":"white"},{"offset":0.4706,"color":"white"},{"offset":0.4706,"color":"black"},{"offset":0.4926,"color":"black"},{"offset":0.4926,"color":"white"},{"offset":0.5294,"color":"white"},{"offset":0.5294,"color":"black"},{"offset":0.5514,"color":"black"},{"offset":0.5514,"color":"white"},{"offset":0.5882,"color":"white"},{"offset":0.5882,"color":"black"},{"offset":0.6102,"color":"black"},{"offset":0.6102,"color":"white"},{"offset":0.6471,"color":"white"},{"offset":0.6471,"color":"black"},{"offset":0.6691,"color":"black"},{"offset":0.6691,"color":"white"},{"offset":0.7059,"color":"white"},{"offset":0.7059,"color":"black"},{"offset":0.7279,"color":"black"},{"offset":0.7279,"color":"white"},{"offset":0.7647,"color":"white"},{"offset":0.7647,"color":"black"},{"offset":0.7867,"color":"black"},{"offset":0.7867,"color":"white"},{"offset":0.8235,"color":"white"},{"offset":0.8235,"color":"black"},{"offset":0.8455,"color":"black"},{"offset":0.8455,"color":"white"},{"offset":0.8824,"color":"white"},{"offset":0.8824,"color":"black"},{"offset":0.9044,"color":"black"},{"offset":0.9044,"color":"white"},{"offset":0.9412,"color":"white"},{"offset":0.9412,"color":"black"},{"offset":0.9632,"color":"black"},{"offset":0.9632,"color":"white"},{"offset":1,"color":"white"}]}},
"encoding": {"y": {"field": "mean", "type": "quantitative", "title": "IL-4 (pg/ml)"}}},
{"mark": {"type": "rule", "color": "black", "strokeWidth": 2}, "encoding": {"y": {"field": "mean", "type": "quantitative", "title": "IL-4 (pg/ml)"}, "y2": {"field": "upper"}}},
{"mark": {"type": "tick", "color": "black", "thickness": 2, "size": 9, "orient": "horizontal"}, "encoding": {"y": {"field": "upper", "type": "quantitative", "title": "IL-4 (pg/ml)"}}},
{"transform": [{"filter": "isValid(datum.star)"}], "mark": {"type": "text", "font": "Liberation Sans", "fontSize": 20, "fontWeight": "bold", "baseline": "middle", "dy": 5, "color": "black"}, "encoding": {"y": {"field": "star", "type": "quantitative", "title": "IL-4 (pg/ml)"}, "text": {"value": "*"}}}
]}
]
}
]
}
]
}
